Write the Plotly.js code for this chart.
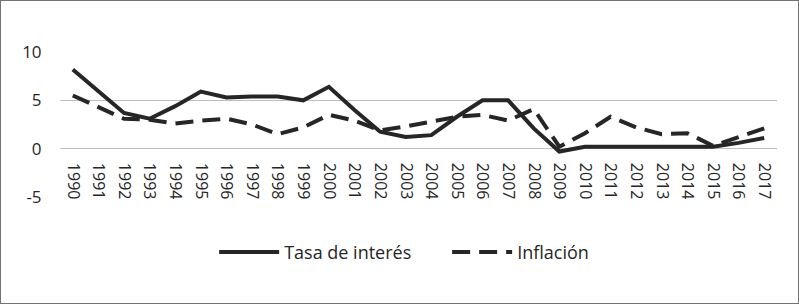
<!DOCTYPE html>
<html>
<head>
<meta charset="utf-8">
<script src="https://cdn.plot.ly/plotly-3.0.1.min.js"></script>
<style>
html,body{margin:0;padding:0;background:#fff;}
#frame{position:absolute;left:0;top:0;width:799px;height:304px;box-sizing:border-box;border:1px solid #737373;}
#chart{position:absolute;left:0;top:0;width:799px;height:304px;}
</style>
</head>
<body>
<div id="chart"></div>
<div id="frame"></div>
<script>
const years = ["1990","1991","1992","1993","1994","1995","1996","1997","1998","1999","2000","2001","2002","2003","2004","2005","2006","2007","2008","2009","2010","2011","2012","2013","2014","2015","2016","2017"];
const tasaInteres = [8.2,5.9,3.7,3.1,4.4,5.9,5.3,5.4,5.4,5.0,6.4,4.0,1.75,1.2,1.4,3.3,5.0,5.0,2.1,-0.3,0.2,0.2,0.2,0.2,0.2,0.2,0.6,1.1];
const inflacion = [5.5,4.3,3.1,3.0,2.6,2.9,3.1,2.5,1.5,2.2,3.5,2.9,1.9,2.3,2.8,3.3,3.5,2.9,4.1,0.2,1.6,3.3,2.2,1.5,1.6,0.3,1.2,2.1];
const yTicks = [-5,0,5,10];

const lineColor = '#262626';
const traces = [
  {x: years, y: tasaInteres, name: 'Tasa de interés', type: 'scatter', mode: 'lines',
   line: {color: lineColor, width: 4}},
  {x: years, y: inflacion, name: 'Inflación', type: 'scatter', mode: 'lines',
   line: {color: lineColor, width: 4, dash: '18px,9px'}}
];

const layout = {
  width: 799, height: 304,
  margin: {l: 60, r: 22, t: 52, b: 107},
  paper_bgcolor: '#fff', plot_bgcolor: '#fff',
  font: {family: '"Open Sans", sans-serif', color: '#262626'},
  showlegend: true,
  legend: {orientation: 'h', xref: 'container', yref: 'container', x: 0.268, xanchor: 'left', y: 0.17, yanchor: 'middle',
           font: {size: 18, color: '#262626'}, itemwidth: 60, entrywidth: 158, traceorder: 'normal', tracegroupgap: 0},
  xaxis: {type: 'category', range: [-0.5, years.length - 0.5], tickangle: 90, anchor: 'free', position: 1/3,
          showgrid: false, zeroline: false, showline: false,
          ticks: 'outside', ticklen: 10, tickcolor: 'rgba(0,0,0,0)',
          tickfont: {size: 16, color: '#262626'}, fixedrange: true},
  yaxis: {range: [-5, 10], tickvals: yTicks, ticktext: yTicks.map(String),
          showgrid: true, gridcolor: '#bfbfbf', gridwidth: 1, zeroline: false, showline: false,
          ticks: 'outside', ticklen: 14, tickcolor: 'rgba(0,0,0,0)',
          tickfont: {size: 17, color: '#262626'}, fixedrange: true}
};

Plotly.newPlot('chart', traces, layout, {displayModeBar: false, staticPlot: true});
</script>
</body>
</html>
